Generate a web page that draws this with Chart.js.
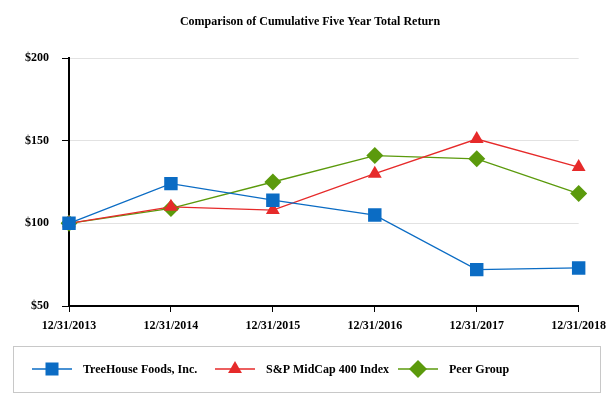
<!DOCTYPE html>
<html>
<head>
<meta charset="utf-8">
<script src="https://cdn.jsdelivr.net/npm/chart.js@4/dist/chart.umd.min.js"></script>
<style>
  html, body { margin: 0; padding: 0; background: #fff; }
  #wrap { width: 613px; height: 405px; position: relative; }
</style>
</head>
<body>
<div id="wrap"><canvas id="returnChart"></canvas></div>
<script>
// Data
const years = ['12/31/2013', '12/31/2014', '12/31/2015', '12/31/2016', '12/31/2017', '12/31/2018'];
const treehouse = [100, 124, 114, 105, 72, 73];
const midcap = [100, 110, 108, 130, 151, 134];
const peerGroup = [100, 109, 125, 141, 139, 118];
const yTicks = [50, 100, 150, 200];

const FONT = '"Liberation Serif", "Times New Roman", serif';

// marker shapes for the legend
function drawMarker(ctx, style, r, x, y) {
    if (style === 'rect') {
        const s = Math.SQRT1_2 * r;
        ctx.rect(x - s, y - s, 2 * s, 2 * s);
    } else if (style === 'triangle') {
        ctx.moveTo(x, y - r);
        ctx.lineTo(x + r * 0.866, y + r * 0.5);
        ctx.lineTo(x - r * 0.866, y + r * 0.5);
        ctx.closePath();
    } else {
        ctx.moveTo(x, y - r);
        ctx.lineTo(x + r, y);
        ctx.lineTo(x, y + r);
        ctx.lineTo(x - r, y);
        ctx.closePath();
    }
}

// Legend drawn by hand: line + marker, inside a grey box
const boxLegend = {
    id: 'boxLegend',
    afterDraw(chart) {
        const ctx = chart.ctx;
        ctx.save();
        ctx.strokeStyle = '#c8c8c8';
        ctx.lineWidth = 1;
        ctx.strokeRect(13.5, 346.5, 587, 46);
        const starts = [32, 215, 398];
        const y = 369;
        ctx.font = 'bold 12px ' + FONT;
        ctx.textBaseline = 'middle';
        chart.data.datasets.forEach((ds, i) => {
            const x0 = starts[i];
            ctx.strokeStyle = ds.borderColor;
            ctx.lineWidth = 1.5;
            ctx.beginPath();
            ctx.moveTo(x0, y);
            ctx.lineTo(x0 + 40, y);
            ctx.stroke();
            ctx.fillStyle = ds.backgroundColor;
            ctx.beginPath();
            drawMarker(ctx, ds.pointStyle, ds.legendRadius, x0 + 20, y);
            ctx.fill();
            ctx.fillStyle = '#000';
            ctx.fillText(ds.label, x0 + 51, y + 1);
        });
        ctx.restore();
    }
};

// Title drawn on the canvas
const topTitle = {
    id: 'topTitle',
    afterDraw(chart) {
        const ctx = chart.ctx;
        ctx.save();
        ctx.font = 'bold 12px ' + FONT;
        ctx.fillStyle = '#000';
        ctx.textAlign = 'center';
        ctx.textBaseline = 'middle';
        ctx.fillText('Comparison of Cumulative Five Year Total Return', 310, 22);
        ctx.restore();
    }
};

const makeSet = (label, data, color, style, radius, legendRadius) => ({
    label: label,
    data: data,
    borderColor: color,
    backgroundColor: color,
    pointBackgroundColor: color,
    pointBorderColor: color,
    borderWidth: 1.3,
    pointStyle: style,
    pointRadius: radius,
    pointHoverRadius: radius,
    pointBorderWidth: 0,
    legendRadius: legendRadius,
    tension: 0,
    fill: false
});

const config = {
    type: 'line',
    data: {
        labels: years,
        datasets: [
            makeSet('TreeHouse Foods, Inc.', treehouse, '#0b6cc4', 'rect', 9.5, 9.2),
            makeSet('S&P MidCap 400 Index', midcap, '#e62a2a', 'triangle', 8, 8),
            makeSet('Peer Group', peerGroup, '#5b9a0c', 'rectRot', 8.5, 9)
        ]
    },
    options: {
        responsive: true,
        maintainAspectRatio: false,
        animation: false,
        layout: { padding: { top: 58, right: 33, bottom: 0, left: 0 } },
        plugins: {
            legend: { display: false },
            title: { display: false },
            tooltip: { enabled: false }
        },
        scales: {
            x: {
                offset: false,
                grid: { drawOnChartArea: false, tickColor: '#000', tickLength: 6, tickWidth: 1 },
                border: { color: '#000', width: 2 },
                ticks: { color: '#000', font: { family: FONT, size: 12, weight: 'bold' }, padding: 7, maxRotation: 0, autoSkip: false },
                afterFit(scale) { scale.height = 99; }
            },
            y: {
                min: 50,
                max: 200,
                afterBuildTicks(scale) { scale.ticks = yTicks.map(v => ({ value: v })); },
                grid: {
                    color: ctx => ctx.tick && ctx.tick.value === 50 ? 'rgba(0,0,0,0)' : '#e2e2e2',
                    tickColor: '#000',
                    tickLength: 7,
                    lineWidth: 1
                },
                border: { color: '#000', width: 2 },
                ticks: {
                    color: '#000',
                    font: { family: FONT, size: 12, weight: 'bold' },
                    padding: 13,
                    callback: v => '$' + v
                },
                afterFit(scale) { scale.width = 69; }
            }
        }
    },
    plugins: [topTitle, boxLegend]
};

window.addEventListener('load', () => {
    const ctx = document.getElementById('returnChart').getContext('2d');
    new Chart(ctx, config);
});
</script>
</body>
</html>
